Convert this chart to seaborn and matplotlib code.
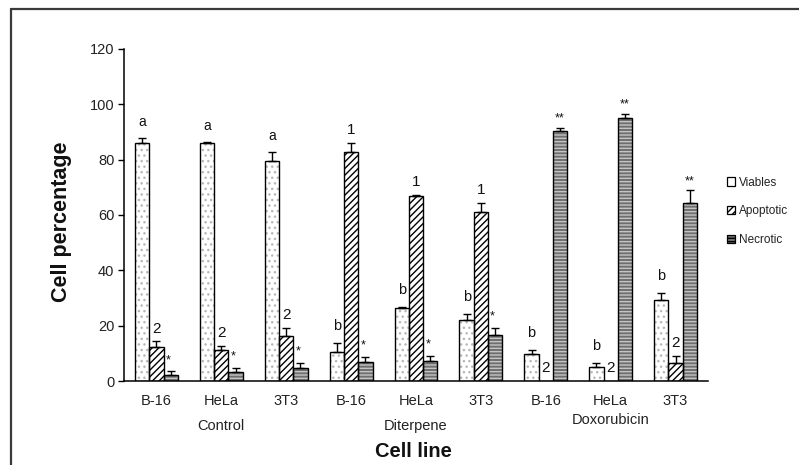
import matplotlib
matplotlib.use("Agg")
import matplotlib.pyplot as plt
from matplotlib.patches import Rectangle, Patch
from matplotlib.lines import Line2D
import matplotlib.transforms as mtrans
import seaborn as sns
import pandas as pd
import numpy as np

# ---------------- data ----------------
treatments = ["Control", "Control", "Control", "Diterpene", "Diterpene", "Diterpene",
              "Doxorubicin", "Doxorubicin", "Doxorubicin"]
cells = ["B-16", "HeLa", "3T3", "B-16", "HeLa", "3T3", "B-16", "HeLa", "3T3"]
types = ["Viables", "Apoptotic", "Necrotic"]

viables = [85.9, 86.0, 79.4, 10.6, 26.3, 22.2, 9.8, 5.2, 29.2]
viables_err = [2.0, 0.3, 3.5, 3.0, 0.3, 2.0, 1.4, 1.4, 2.5]
apoptotic = [12.2, 11.2, 16.3, 82.9, 66.9, 61.0, 0.0, 0.0, 6.6]
apoptotic_err = [2.1, 1.4, 3.0, 3.0, 0.4, 3.4, 0.0, 0.0, 2.6]
necrotic = [2.3, 3.3, 4.8, 6.8, 7.2, 16.8, 90.5, 95.0, 64.4]
necrotic_err = [1.3, 1.4, 1.8, 2.0, 2.0, 2.5, 0.9, 1.4, 4.5]

viables_lab = ["a", "a", "a", "b", "b", "b", "b", "b", "b"]
apoptotic_lab = ["2", "2", "2", "1", "1", "1", "2", "2", "2"]
necrotic_lab = ["*", "*", "*", "*", "*", "*", "**", "**", "**"]

yticks = [0, 20, 40, 60, 80, 100, 120]

# ---------------- build table ----------------
keys = [f"{t} {c}" for t, c in zip(treatments, cells)]
vals = {"Viables": viables, "Apoptotic": apoptotic, "Necrotic": necrotic}
errs = {"Viables": viables_err, "Apoptotic": apoptotic_err, "Necrotic": necrotic_err}
labs = {"Viables": viables_lab, "Apoptotic": apoptotic_lab, "Necrotic": necrotic_lab}
rows = []
for i, k in enumerate(keys):
    for t in types:
        rows.append({"key": k, "type": t, "value": vals[t][i], "err": errs[t][i]})
df = pd.DataFrame(rows)

# ---------------- style ----------------
sns.set_style("white")
plt.rcParams["font.family"] = ["Liberation Sans", "DejaVu Sans"]
plt.rcParams["hatch.linewidth"] = 1.0

W, H = 799, 465
fig = plt.figure(figsize=(W / 100, H / 100), dpi=100)
ax = fig.add_axes([124 / W, 1 - 381 / H, (708 - 124) / W, (381 - 49) / H])

face = {"Viables": "white", "Apoptotic": "white", "Necrotic": "#6f6f6f"}
hatch = {"Viables": "...", "Apoptotic": "/////", "Necrotic": "-----"}
hcol = {"Viables": "#b8b8b8", "Apoptotic": "black", "Necrotic": "#c4c4c4"}

sns.barplot(data=df, x="key", y="value", hue="type", order=keys, hue_order=types,
            width=0.66, palette=[face[t] for t in types], saturation=1,
            errorbar=None, legend=False, ax=ax, linewidth=0)

offs = {"a": 5.8, "b": 6.2, "1": 4.8, "2": 4.6, "*": 4.0, "**": 3.4}
xshift = {"*": -0.04, "**": 0.0}
fsz = {"a": 10, "b": 10.5, "1": 11, "2": 11, "*": 9, "**": 9}

for ci, t in enumerate(types):
    cont = ax.containers[ci]
    xs, ys, es = [], [], []
    for i, p in enumerate(cont.patches):
        p.set_hatch(hatch[t])
        p.set_edgecolor(hcol[t])
        p.set_linewidth(0)
        ax.add_patch(Rectangle(p.get_xy(), p.get_width(), p.get_height(),
                               fill=False, edgecolor="black", linewidth=1.0, zorder=3))
        xc = p.get_x() + p.get_width() / 2
        v = vals[t][i]
        e = errs[t][i]
        if e > 0:
            xs.append(xc); ys.append(v); es.append(e)
        lab = labs[t][i]
        ax.text(xc + xshift.get(lab, 0), v + e + offs[lab], lab, ha="center", va="center",
                fontsize=fsz[lab], color="#111111", zorder=5)
    ax.errorbar(xs, ys, yerr=[np.zeros(len(es)), es], fmt="none", ecolor="black",
                elinewidth=1.0, capsize=3.2, capthick=1.0, zorder=4)

# ---------------- axes ----------------
ax.set_xlim(-0.5, len(keys) - 0.5)
ax.set_ylim(0, 120)
ax.set_yticks(yticks)
ax.set_yticklabels([str(v) for v in yticks], fontsize=10.5, color="#222222")
ax.set_xticks(range(len(keys)))
ax.set_xticklabels(cells, fontsize=10.5, color="#222222")
ax.set_xticks(np.arange(-0.5, len(keys), 1.0), minor=True)
ax.tick_params(axis="x", which="major", length=0, pad=9)
ax.tick_params(axis="x", which="minor", length=4, width=1.0, direction="out", color="black")
ax.tick_params(axis="y", which="major", length=4, width=1.0, direction="out", pad=3,
               color="black", left=True)
for s in ["top", "right"]:
    ax.spines[s].set_visible(False)
for s in ["left", "bottom"]:
    ax.spines[s].set_color("black")
    ax.spines[s].set_linewidth(1.1)
ax.set_xlabel("")
ax.set_ylabel("")

# treatment group labels
trans = mtrans.blended_transform_factory(ax.transData, fig.transFigure)
group_names = ["Control", "Diterpene", "Doxorubicin"]
group_y = [425.7, 425.7, 420.0]
for gi, g in enumerate(group_names):
    idx = [i for i, t in enumerate(treatments) if t == g]
    ax.text(np.mean(idx), 1 - group_y[gi] / H, g, transform=trans, ha="center",
            va="center", fontsize=10.5, color="#222222")

fig.text(62 / W, 1 - 222 / H, "Cell percentage", rotation=90, ha="center", va="center",
         fontsize=15.5, fontweight="bold", color="#111111")
fig.text(413 / W, 1 - 451 / H, "Cell line", ha="center", va="center",
         fontsize=14.5, fontweight="bold", color="#111111")

# legend
handles = [Patch(facecolor=face[t], edgecolor="black", hatch=hatch[t] if t != "Viables" else "",
                 linewidth=0.9) for t in types]
leg = fig.legend(handles, types, loc="upper left", bbox_to_anchor=(722 / W, 1 - 172 / H),
                 frameon=False, fontsize=8.5, handlelength=0.7, handleheight=0.7,
                 handletextpad=0.3, labelspacing=1.4, borderaxespad=0)
for txt in leg.get_texts():
    txt.set_color("#222222")

# outer frame (cropped)
fig.add_artist(Line2D([11 / W, 1.0], [1 - 9 / H, 1 - 9 / H], transform=fig.transFigure,
                      color="#3a3a3a", linewidth=1.6))
fig.add_artist(Line2D([11 / W, 11 / W], [1 - 9 / H, 0.0], transform=fig.transFigure,
                      color="#3a3a3a", linewidth=1.6))

fig.savefig("out.png", dpi=100)
